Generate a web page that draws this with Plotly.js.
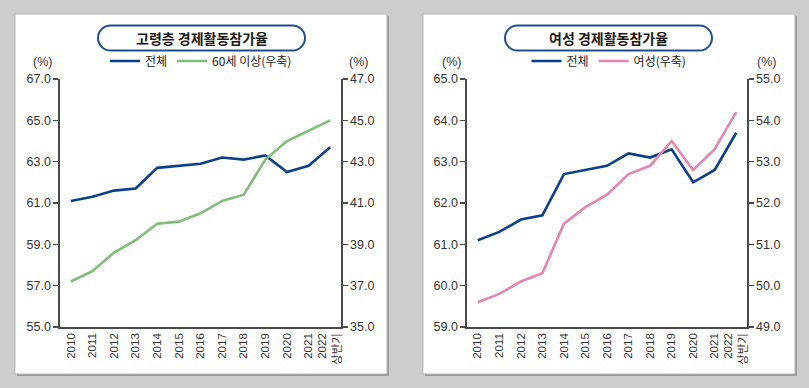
<!DOCTYPE html>
<html>
<head>
<meta charset="utf-8">
<script src="https://cdn.plot.ly/plotly-3.0.1.min.js"></script>
<style>html,body{margin:0;padding:0;background:#cdcdcd;}#chart{width:809px;height:388px;}</style>
</head>
<body>
<div id="chart"></div>
<script>
// ---- data ----
var years = ['2010','2011','2012','2013','2014','2015','2016','2017','2018','2019','2020','2021','2022<br>상반기'];
var totalRate = [61.1, 61.3, 61.6, 61.7, 62.7, 62.8, 62.9, 63.2, 63.1, 63.3, 62.5, 62.8, 63.7];
var elderlyRate = [37.2, 37.7, 38.6, 39.2, 40.0, 40.1, 40.5, 41.1, 41.4, 43.1, 44.0, 44.5, 45.0];
var femaleRate = [49.6, 49.8, 50.1, 50.3, 51.5, 51.9, 52.2, 52.7, 52.9, 53.5, 52.8, 53.3, 54.2];
var titles = ['고령층 경제활동참가율', '여성 경제활동참가율'];
var seriesNames = ['전체', '60세 이상(우축)', '전체', '여성(우축)'];

// ---- helpers ----
var W = 809, H = 388;
function px(x){ return x / W; }
function py(y){ return 1 - y / H; }
var KR = '"Noto Sans CJK KR", "Liberation Sans", sans-serif';
var NUM = '"Liberation Sans", Arial, "Noto Sans CJK KR", sans-serif';
var BLUE = '#0b3f88', GREEN = '#80bd78', PINK = '#e487ae';

function stadium(x0, x1, y0, y1){
  var r = (y1 - y0) / 2, k = 0.5523 * r;
  var p = function(x, y){ return px(x) + ',' + py(y); };
  return 'M' + p(x0 + r, y0) + ' L' + p(x1 - r, y0) +
    ' C' + p(x1 - r + k, y0) + ' ' + p(x1, y0 + r - k) + ' ' + p(x1, y0 + r) +
    ' C' + p(x1, y0 + r + k) + ' ' + p(x1 - r + k, y1) + ' ' + p(x1 - r, y1) +
    ' L' + p(x0 + r, y1) +
    ' C' + p(x0 + r - k, y1) + ' ' + p(x0, y0 + r + k) + ' ' + p(x0, y0 + r) +
    ' C' + p(x0, y0 + r - k) + ' ' + p(x0 + r - k, y0) + ' ' + p(x0 + r, y0) + ' Z';
}

var traces = [
  {x: years, y: totalRate, xaxis: 'x', yaxis: 'y', name: seriesNames[0], type: 'scatter', mode: 'lines',
   line: {color: BLUE, width: 2.6}, legend: 'legend'},
  {x: years, y: elderlyRate, xaxis: 'x', yaxis: 'y2', name: seriesNames[1], type: 'scatter', mode: 'lines',
   line: {color: GREEN, width: 2.6}, legend: 'legend'},
  {x: years, y: totalRate, xaxis: 'x2', yaxis: 'y3', name: seriesNames[2], type: 'scatter', mode: 'lines',
   line: {color: BLUE, width: 2.6}, legend: 'legend2'},
  {x: years, y: femaleRate, xaxis: 'x2', yaxis: 'y4', name: seriesNames[3], type: 'scatter', mode: 'lines',
   line: {color: PINK, width: 2.6}, legend: 'legend2'}
];

var ydom = [py(327), py(79)];
function xAxis(d0, d1, anchor){
  return {domain: [px(d0), px(d1)], anchor: anchor, type: 'category', range: [-0.5, 12.5],
    showline: true, linecolor: '#4a4a4a', linewidth: 1.6, ticks: '', showgrid: false, zeroline: false,
    tickangle: -90, tickfont: {family: NUM, size: 11.5, color: '#333'}, fixedrange: true};
}
function yAxis(range, dtick, anchor, side, overlay){
  var a = {domain: ydom, anchor: anchor, range: range, tick0: range[0], dtick: dtick, tickformat: '.1f',
    showline: true, linecolor: '#4a4a4a', linewidth: 1.6, ticks: 'outside', ticklen: 5, tickwidth: 1.2,
    tickcolor: '#4a4a4a', showgrid: false, zeroline: false, side: side,
    tickfont: {family: NUM, size: 12.5, color: '#333'}, fixedrange: true};
  if (overlay) a.overlaying = overlay;
  return a;
}

var shapes = [];
[[15, 387], [423, 795]].forEach(function(b){
  shapes.push({type: 'rect', xref: 'paper', yref: 'paper', x0: px(b[0] + 2), x1: px(b[1] + 2), y0: py(376), y1: py(16),
    fillcolor: '#9a9a9a', line: {width: 0}, layer: 'below'});
  shapes.push({type: 'rect', xref: 'paper', yref: 'paper', x0: px(b[0]), x1: px(b[1]), y0: py(374), y1: py(14),
    fillcolor: '#ffffff', line: {color: '#b8b8b8', width: 1}, layer: 'below'});
});
shapes.push({type: 'path', xref: 'paper', yref: 'paper', path: stadium(98, 305, 25.5, 50.5),
  line: {color: '#1d4f91', width: 2}, fillcolor: 'rgba(0,0,0,0)'});
shapes.push({type: 'path', xref: 'paper', yref: 'paper', path: stadium(505, 712, 25.5, 50.5),
  line: {color: '#1d4f91', width: 2}, fillcolor: 'rgba(0,0,0,0)'});

function ann(text, x, y, font){
  return {text: text, xref: 'paper', yref: 'paper', x: px(x), y: py(y), showarrow: false,
    xanchor: 'center', yanchor: 'middle', font: font};
}
var pctFont = {family: NUM, size: 12.5, color: '#333'};
var annotations = [
  ann('<b>' + titles[0] + '</b>', 201.5, 38, {family: KR, size: 14, color: '#1a1a1a'}),
  ann('<b>' + titles[1] + '</b>', 608.5, 38, {family: KR, size: 14, color: '#1a1a1a'}),
  ann('(%)', 42, 62, pctFont), ann('(%)', 358, 62, pctFont),
  ann('(%)', 451, 62, pctFont), ann('(%)', 766, 62, pctFont)
];

var legendBase = {orientation: 'h', yanchor: 'middle', xanchor: 'center', bgcolor: 'rgba(0,0,0,0)',
  font: {family: KR, size: 12, color: '#222'}, itemwidth: 30, tracegroupgap: 0};

var layout = {
  width: W, height: H, margin: {l: 0, r: 0, t: 0, b: 0},
  paper_bgcolor: '#cdcdcd', plot_bgcolor: 'rgba(0,0,0,0)',
  showlegend: true,
  legend: Object.assign({}, legendBase, {x: px(201), y: py(61)}),
  legend2: Object.assign({}, legendBase, {x: px(609), y: py(61)}),
  xaxis: xAxis(60, 341, 'y'),
  yaxis: yAxis([55, 67], 2, 'x', 'left'),
  yaxis2: yAxis([35, 47], 2, 'x', 'right', 'y'),
  xaxis2: xAxis(467, 747, 'y3'),
  yaxis3: yAxis([59, 65], 1, 'x2', 'left'),
  yaxis4: yAxis([49, 55], 1, 'x2', 'right', 'y3'),
  shapes: shapes,
  annotations: annotations
};

Plotly.newPlot('chart', traces, layout, {displayModeBar: false, staticPlot: true});
</script>
</body>
</html>
